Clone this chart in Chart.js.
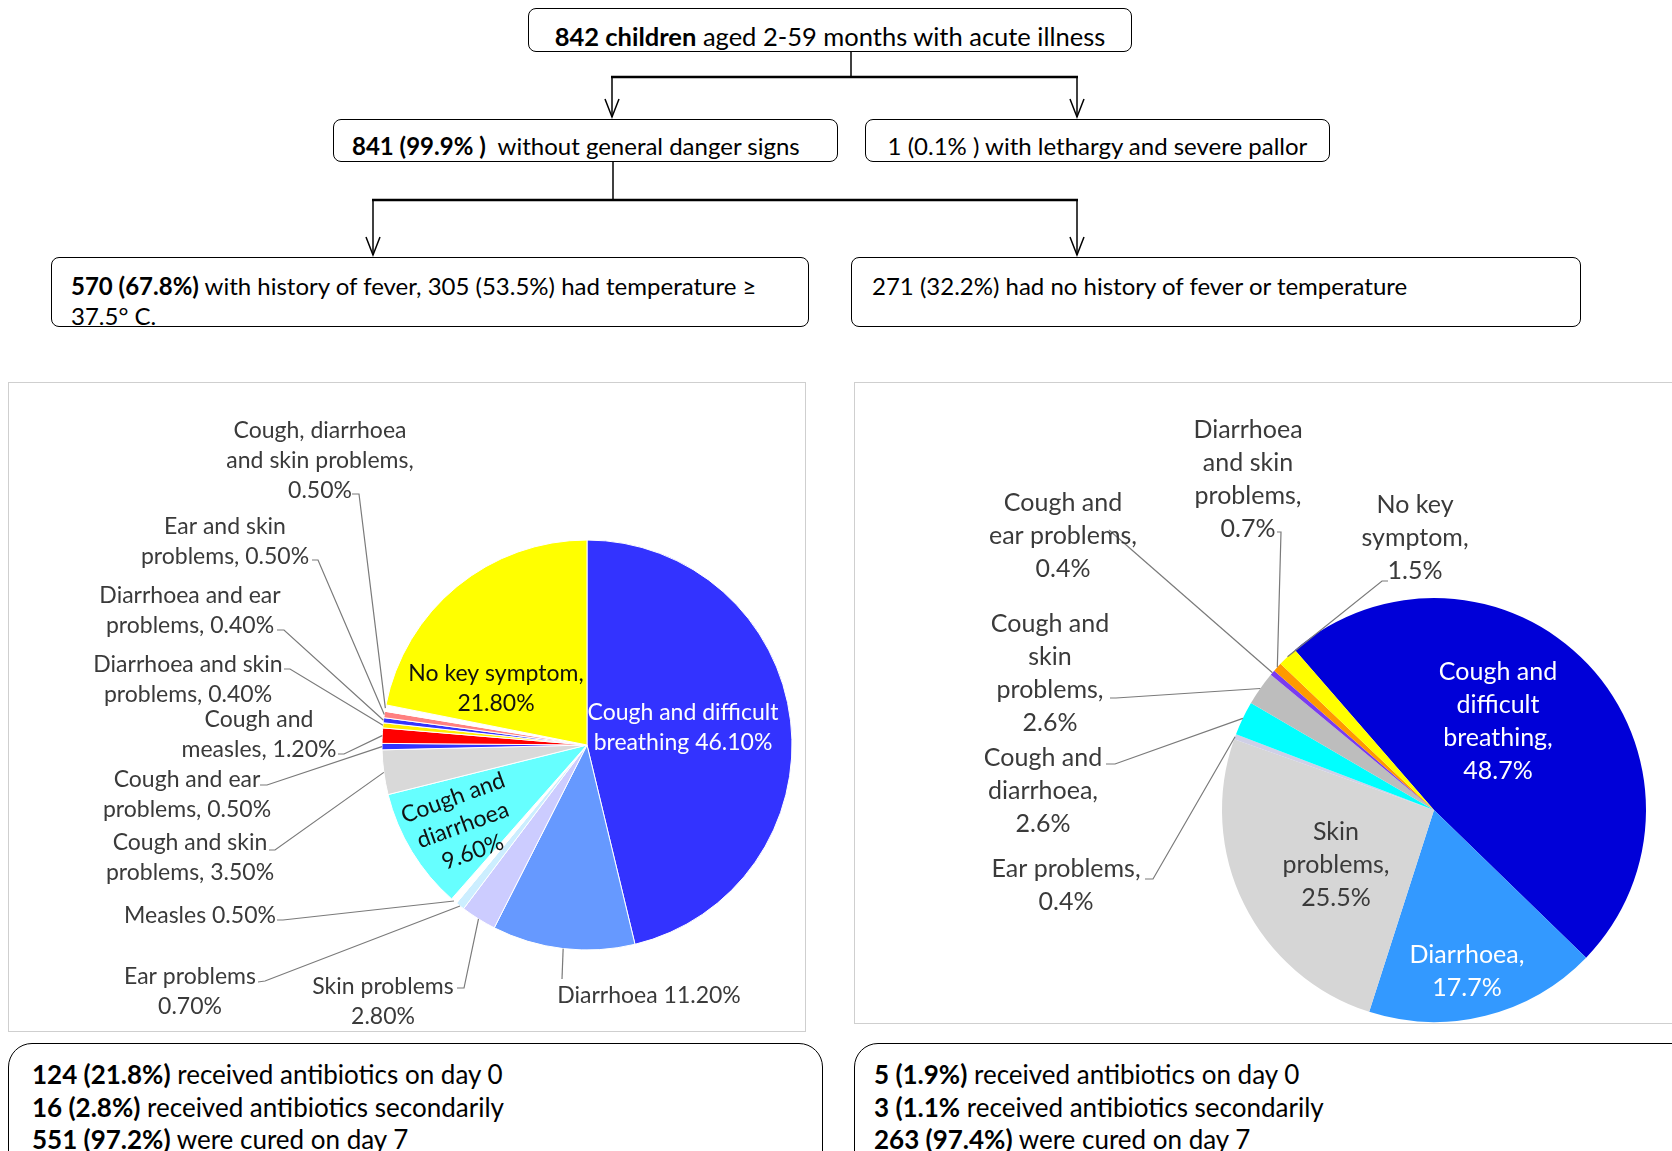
<!DOCTYPE html>
<html>
<head>
<meta charset="utf-8">
<script src="https://cdn.jsdelivr.net/npm/chart.js@4.4.1/dist/chart.umd.min.js"></script>
<style>
  html, body { margin: 0; padding: 0; background: #fff; }
  body { width: 1672px; height: 1151px; position: relative; overflow: hidden;
         font-family: Lato, 'Noto Sans', sans-serif; color: #000; }
  .box { position: absolute; box-sizing: border-box; border: 1.5px solid #000; border-radius: 8px;
         font-size: 24px; white-space: nowrap; }
  .panel { position: absolute; box-sizing: border-box; border: 1.5px solid #cfcfcf; }
  canvas { position: absolute; }
</style>
</head>
<body>

<div class="box" style="left:528px;top:8px;width:604px;height:44px;line-height:41px;padding-top:7px;text-align:center;font-size:25.5px;">
  <b>842 children</b> aged 2-59 months with acute illness</div>
<div class="box" style="left:333px;top:119px;width:505px;height:43px;line-height:40px;padding:6px 0 0 18px;">
  <b>841 (99.9% )</b>&nbsp; without general danger signs</div>
<div class="box" style="left:865px;top:119px;width:465px;height:43px;line-height:40px;padding-top:6px;text-align:center;">
  1 (0.1% ) with lethargy and severe pallor</div>
<div class="box" style="left:51px;top:257px;width:758px;height:70px;line-height:30px;padding:13px 0 0 19px;">
  <b>570 (67.8%)</b> with history of fever, 305 (53.5%) had temperature ≥<br>37.5° C.</div>
<div class="box" style="left:851px;top:257px;width:730px;height:70px;line-height:30px;padding:13px 0 0 20px;">
  271 (32.2%) had no history of fever or temperature</div>

<svg width="1672" height="1151" style="position:absolute;left:0;top:0">
  <g stroke="#000" fill="none" stroke-width="1.5">
    <line x1="851" y1="51" x2="851" y2="77"/>
    <line x1="611" y1="77" x2="1078" y2="77" stroke-width="2.5"/>
    <line x1="612" y1="77" x2="612" y2="117"/>
    <polyline points="605,99 612,117 619,99"/>
    <line x1="1077" y1="77" x2="1077" y2="117"/>
    <polyline points="1070,99 1077,117 1084,99"/>
    <line x1="613" y1="161" x2="613" y2="200"/>
    <line x1="372" y1="200" x2="1078" y2="200" stroke-width="2.5"/>
    <line x1="373" y1="200" x2="373" y2="255"/>
    <polyline points="366,237 373,255 380,237"/>
    <line x1="1077" y1="200" x2="1077" y2="255"/>
    <polyline points="1070,237 1077,255 1084,237"/>
  </g>
</svg>

<div class="panel" style="left:8px;top:382px;width:798px;height:650px;"></div>
<div class="panel" style="left:854px;top:382px;width:840px;height:642px;"></div>
<canvas id="feverPie" width="797" height="650" style="left:9px;top:382px;"></canvas>
<canvas id="noFeverPie" width="818" height="642" style="left:854px;top:382px;"></canvas>

<div class="box" style="left:8px;top:1043px;width:815px;height:140px;border-radius:24px;line-height:32.5px;padding:14px 0 0 23px;font-size:26px;">
  <b>124 (21.8%)</b> received antibiotics on day 0<br>
  <b>16 (2.8%)</b> received antibiotics secondarily<br>
  <b>551 (97.2%)</b> were cured on day 7</div>
<div class="box" style="left:854px;top:1043px;width:860px;height:140px;border-radius:24px;line-height:32.5px;padding:14px 0 0 19px;font-size:26px;">
  <b>5 (1.9%)</b> received antibiotics on day 0<br>
  <b>3 (1.1%</b> received antibiotics secondarily<br>
  <b>263 (97.4%)</b> were cured on day 7</div>

<script>
// --- fever group (570 children), order clockwise from 12 o'clock
const feverCategories = [
    'Cough and difficult breathing', 'Diarrhoea', 'Skin problems', 'Ear problems', 'Measles',
    'Cough and diarrhoea', 'Cough and skin problems', 'Cough and ear problems', 'Cough and measles',
    'Diarrhoea and skin problems', 'Diarrhoea and ear problems', 'Ear and skin problems',
    'Cough, diarrhoea and skin problems', 'No key symptom',
];
const feverValues = [46.1, 11.2, 2.8, 0.7, 0.5, 9.6, 3.5, 0.5, 1.2, 0.4, 0.4, 0.5, 0.5, 21.8];
const feverColors = [
    '#3333ff', '#6699ff', '#ccccff', '#cceeff', '#ffffff', '#66ffff', '#d9d9d9',
    '#3333ff', '#ff0000', '#ffee00', '#3333ff', '#ff8080', '#ffffff', '#ffff00',
];

// --- no-fever group (271 children)
const noFeverCategories = [
    'Cough and difficult breathing', 'Diarrhoea', 'Skin problems', 'Ear problems',
    'Cough and diarrhoea', 'Cough and skin problems', 'Cough and ear problems',
    'Diarrhoea and skin problems', 'No key symptom',
];
const noFeverValues = [48.7, 17.7, 25.5, 0.4, 2.6, 2.6, 0.4, 0.7, 1.5];
const noFeverColors = [
    '#0000d8', '#3399ff', '#d6d6d6', '#cfcfe6', '#00ffff', '#bdbdbd', '#7a3cf0', '#ff9900', '#ffff00',
];

// Label placement (canvas pixels). {v} is replaced with the slice value.
const feverCallouts = [
    { lines: ['Cough and difficult', 'breathing {v}'], x: 674, y: 331, color: '#fff' },
    { lines: ['Diarrhoea {v}'], x: 640, y: 614, lead: [[553, 597]] },
    { lines: ['Skin problems', '{v}'], x: 374, y: 605, lead: [[448, 606], [455, 606]] },
    { lines: ['Ear problems', '{v}'], x: 181, y: 595, lead: [[249, 600], [256, 599]] },
    { lines: ['Measles {v}'], x: 191, y: 534, lead: [[268, 538], [274, 538]] },
    { lines: ['Cough and', 'diarrhoea', '{v}'], x: 444, y: 416, rotate: -20, lh: 28.8, color: '#111' },
    { lines: ['Cough and skin', 'problems, {v}'], x: 181, y: 461, lead: [[260, 468], [266, 468]] },
    { lines: ['Cough and ear', 'problems, {v}'], x: 178, y: 398, lead: [[251, 403], [258, 403]] },
    { lines: ['Cough and', 'measles, {v}'], x: 250, y: 338, lead: [[329, 372], [335, 372]] },
    { lines: ['Diarrhoea and skin', 'problems, {v}'], x: 179, y: 283, lead: [[275, 287], [281, 287]] },
    { lines: ['Diarrhoea and ear', 'problems, {v}'], x: 181, y: 214, lead: [[268, 248], [275, 248]] },
    { lines: ['Ear and skin', 'problems, {v}'], x: 216, y: 145, lead: [[303, 178], [309, 178]] },
    { lines: ['Cough, diarrhoea', 'and skin problems,', '{v}'], x: 311, y: 49, lead: [[343, 112], [350, 112]] },
    { lines: ['No key symptom,', '{v}'], x: 487, y: 292, color: '#111' },
];
const noFeverCallouts = [
    { lines: ['Cough and', 'difficult', 'breathing,', '{v}'], x: 644, y: 290, color: '#fff' },
    { lines: ['Diarrhoea,', '{v}'], x: 613, y: 573, color: '#fff' },
    { lines: ['Skin', 'problems,', '{v}'], x: 482, y: 450 },
    { lines: ['Ear problems,', '{v}'], x: 212, y: 487, lead: [[291, 497], [299, 497]] },
    { lines: ['Cough and', 'diarrhoea,', '{v}'], x: 189, y: 376, lead: [[252, 382], [261, 382]] },
    { lines: ['Cough and', 'skin', 'problems,', '{v}'], x: 196, y: 242, lead: [[256, 316], [262, 316]] },
    { lines: ['Cough and', 'ear problems,', '{v}'], x: 209, y: 121, lead: [[255, 148]] },
    { lines: ['Diarrhoea', 'and skin', 'problems,', '{v}'], x: 394, y: 48, lead: [[423, 150], [427, 150]] },
    { lines: ['No key', 'symptom,', '{v}'], x: 561, y: 123, lead: [[534, 199], [528, 199]] },
];

// Excel-like data labels with leader lines ending on the slice's outer edge.
const callouts = {
    id: 'callouts',
    afterDatasetsDraw(chart, args, opts) {
        const { ctx } = chart;
        const arcs = chart.getDatasetMeta(0).data;
        const values = chart.data.datasets[0].data;
        ctx.save();
        opts.items.forEach((item, i) => {
            const { x, y, startAngle, endAngle, outerRadius } =
                arcs[i].getProps(['x', 'y', 'startAngle', 'endAngle', 'outerRadius'], true);
            if (item.lead) {
                const mid = (startAngle + endAngle) / 2;
                ctx.beginPath();
                ctx.strokeStyle = '#7a7a7a';
                ctx.lineWidth = 1.2;
                ctx.moveTo(item.lead[0][0], item.lead[0][1]);
                item.lead.slice(1).forEach((p) => ctx.lineTo(p[0], p[1]));
                ctx.lineTo(x + Math.cos(mid) * outerRadius, y + Math.sin(mid) * outerRadius);
                ctx.stroke();
            }
            const lh = item.lh || opts.lineHeight;
            ctx.save();
            ctx.translate(item.x, item.y);
            if (item.rotate) ctx.rotate(item.rotate * Math.PI / 180);
            ctx.font = `${opts.size}px Lato, 'Noto Sans', sans-serif`;
            ctx.fillStyle = item.color || '#3a3a3a';
            ctx.textAlign = 'center';
            ctx.textBaseline = 'middle';
            item.lines.forEach((line, k) => {
                ctx.fillText(line.replace('{v}', opts.fmt(values[i])), 0, k * lh);
            });
            ctx.restore();
        });
        ctx.restore();
    },
};

function pie(canvas, labels, values, colors, opt) {
    return new Chart(canvas, {
        type: 'pie',
        data: {
            labels,
            datasets: [{
                data: values,
                backgroundColor: colors,
                borderColor: '#ffffff',
                borderWidth: opt.border,
            }],
        },
        options: {
            responsive: false,
            animation: false,
            rotation: opt.rotation,
            radius: opt.radius,
            layout: { padding: opt.padding },
            plugins: {
                legend: { display: false },
                tooltip: { enabled: false },
                callouts: opt.callouts,
            },
        },
        plugins: [callouts],
    });
}

pie(document.getElementById('feverPie'), feverCategories, feverValues, feverColors, {
    rotation: 0,
    radius: 205,
    border: 1,
    padding: { left: 373, right: 14, top: 158, bottom: 82 },
    callouts: { items: feverCallouts, size: 23, lineHeight: 30, fmt: (v) => v.toFixed(2) + '%' },
});

pie(document.getElementById('noFeverPie'), noFeverCategories, noFeverValues, noFeverColors, {
    rotation: 319,
    radius: 212,
    border: 0,
    padding: { left: 368, right: 26, top: 216, bottom: 2 },
    callouts: { items: noFeverCallouts, size: 25, lineHeight: 33, fmt: (v) => v.toFixed(1) + '%' },
});
</script>
</body>
</html>
